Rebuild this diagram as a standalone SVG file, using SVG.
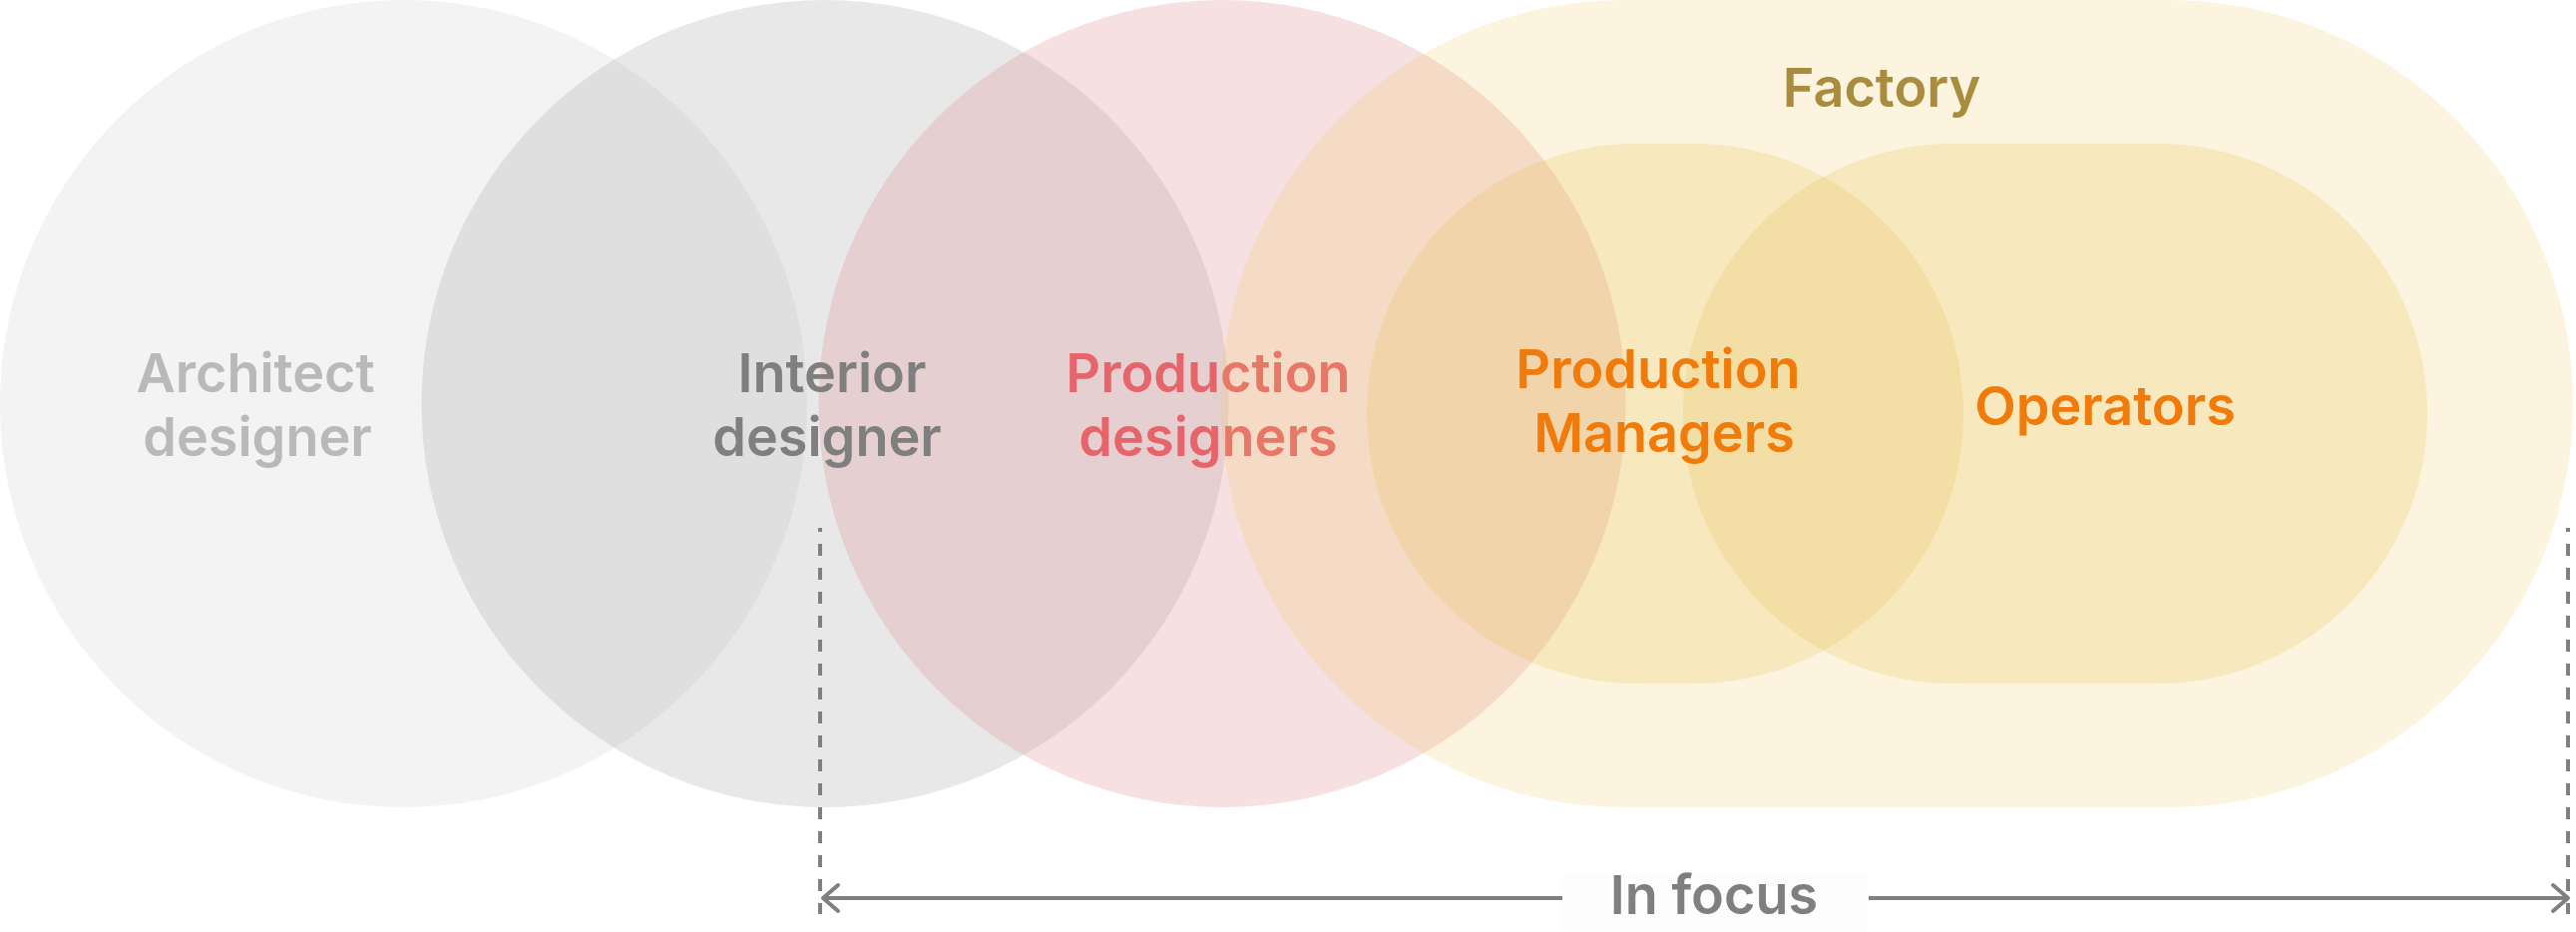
<svg xmlns="http://www.w3.org/2000/svg" width="2582" height="934" viewBox="0 0 2582 934">
  <style>
    .lbl { font-family: Inter, "Liberation Sans", sans-serif; font-weight: 600; font-size: 54px; text-anchor: middle; }
    .gray1 { fill: #b9b9b9; }
    .gray2 { fill: #7f7f7f; }
    .red { fill: #e5656b; }
    .orange { fill: #f07a0a; }
    .gold { fill: #a98c3e; }
    .dash { stroke: #808080; stroke-width: 4; stroke-dasharray: 12 12; stroke-dashoffset: 8; fill: none; }
    .arrow { stroke: #808080; stroke-width: 4; fill: none; }
  </style>
  <defs>
    <marker id="chev" markerUnits="userSpaceOnUse" viewBox="-20 -17 24 34" markerWidth="24" markerHeight="34" refX="0" refY="0" orient="auto-start-reverse">
      <path d="M -15 -13 L 0 0 L -15 13" fill="none" stroke="#808080" stroke-width="4" stroke-linecap="round" stroke-linejoin="round"/>
    </marker>
  </defs>

  <rect width="2582" height="934" fill="#ffffff"/>

  <g id="architect-designer">
    <circle cx="404.5" cy="404.5" r="404.5" fill="#f3f3f3"/>
  </g>
  <g id="interior-designer">
    <circle cx="827" cy="404.5" r="404.5" fill="#a3a3a3" fill-opacity="0.25"/>
  </g>
  <g id="production-designers">
    <circle cx="1225" cy="404.5" r="404.5" fill="#e0888c" fill-opacity="0.26"/>
  </g>

  <g id="architect-designer-label">
    <text class="lbl gray1" x="256" y="393">Architect</text>
    <text class="lbl gray1" x="258" y="457">designer</text>
  </g>
  <g id="interior-designer-label">
    <text class="lbl gray2" x="834" y="393">Interior</text>
    <text class="lbl gray2" x="829" y="457">designer</text>
  </g>
  <g id="production-designers-label">
    <text class="lbl red" x="1211" y="393">Production</text>
    <text class="lbl red" x="1211" y="457">designers</text>
  </g>

  <g id="factory">
    <rect x="1224" y="0" width="1355" height="809" rx="404.5" ry="404.5" fill="#f0c85a" fill-opacity="0.2"/>
    <text class="lbl gold" x="1886" y="107">Factory</text>
  </g>
  <g id="production-managers">
    <rect x="1370" y="144" width="598" height="541" rx="270" ry="270" fill="#e8b843" fill-opacity="0.2"/>
  </g>
  <g id="operators">
    <rect x="1687" y="144" width="746" height="541" rx="270" ry="270" fill="#e8b843" fill-opacity="0.2"/>
  </g>
  <g id="production-managers-label">
    <text class="lbl orange" x="1662" y="389">Production</text>
    <text class="lbl orange" x="1668" y="453">Managers</text>
  </g>
  <g id="operators-label">
    <text class="lbl orange" x="2110" y="426">Operators</text>
  </g>

  <g id="connectors">
    <line class="dash" x1="822" y1="529" x2="822" y2="916"/>
    <line class="dash" x1="2574" y1="529" x2="2574" y2="916"/>
    <line class="arrow" x1="1566" y1="900" x2="825" y2="900" marker-end="url(#chev)"/>
    <line class="arrow" x1="1873" y1="900" x2="2574" y2="900" marker-end="url(#chev)"/>
  </g>
  <g id="in-focus">
    <rect x="1566" y="875" width="307" height="59" fill="#fdfdfd"/>
    <text class="lbl gray2" x="1718" y="916">In focus</text>
  </g>
</svg>
